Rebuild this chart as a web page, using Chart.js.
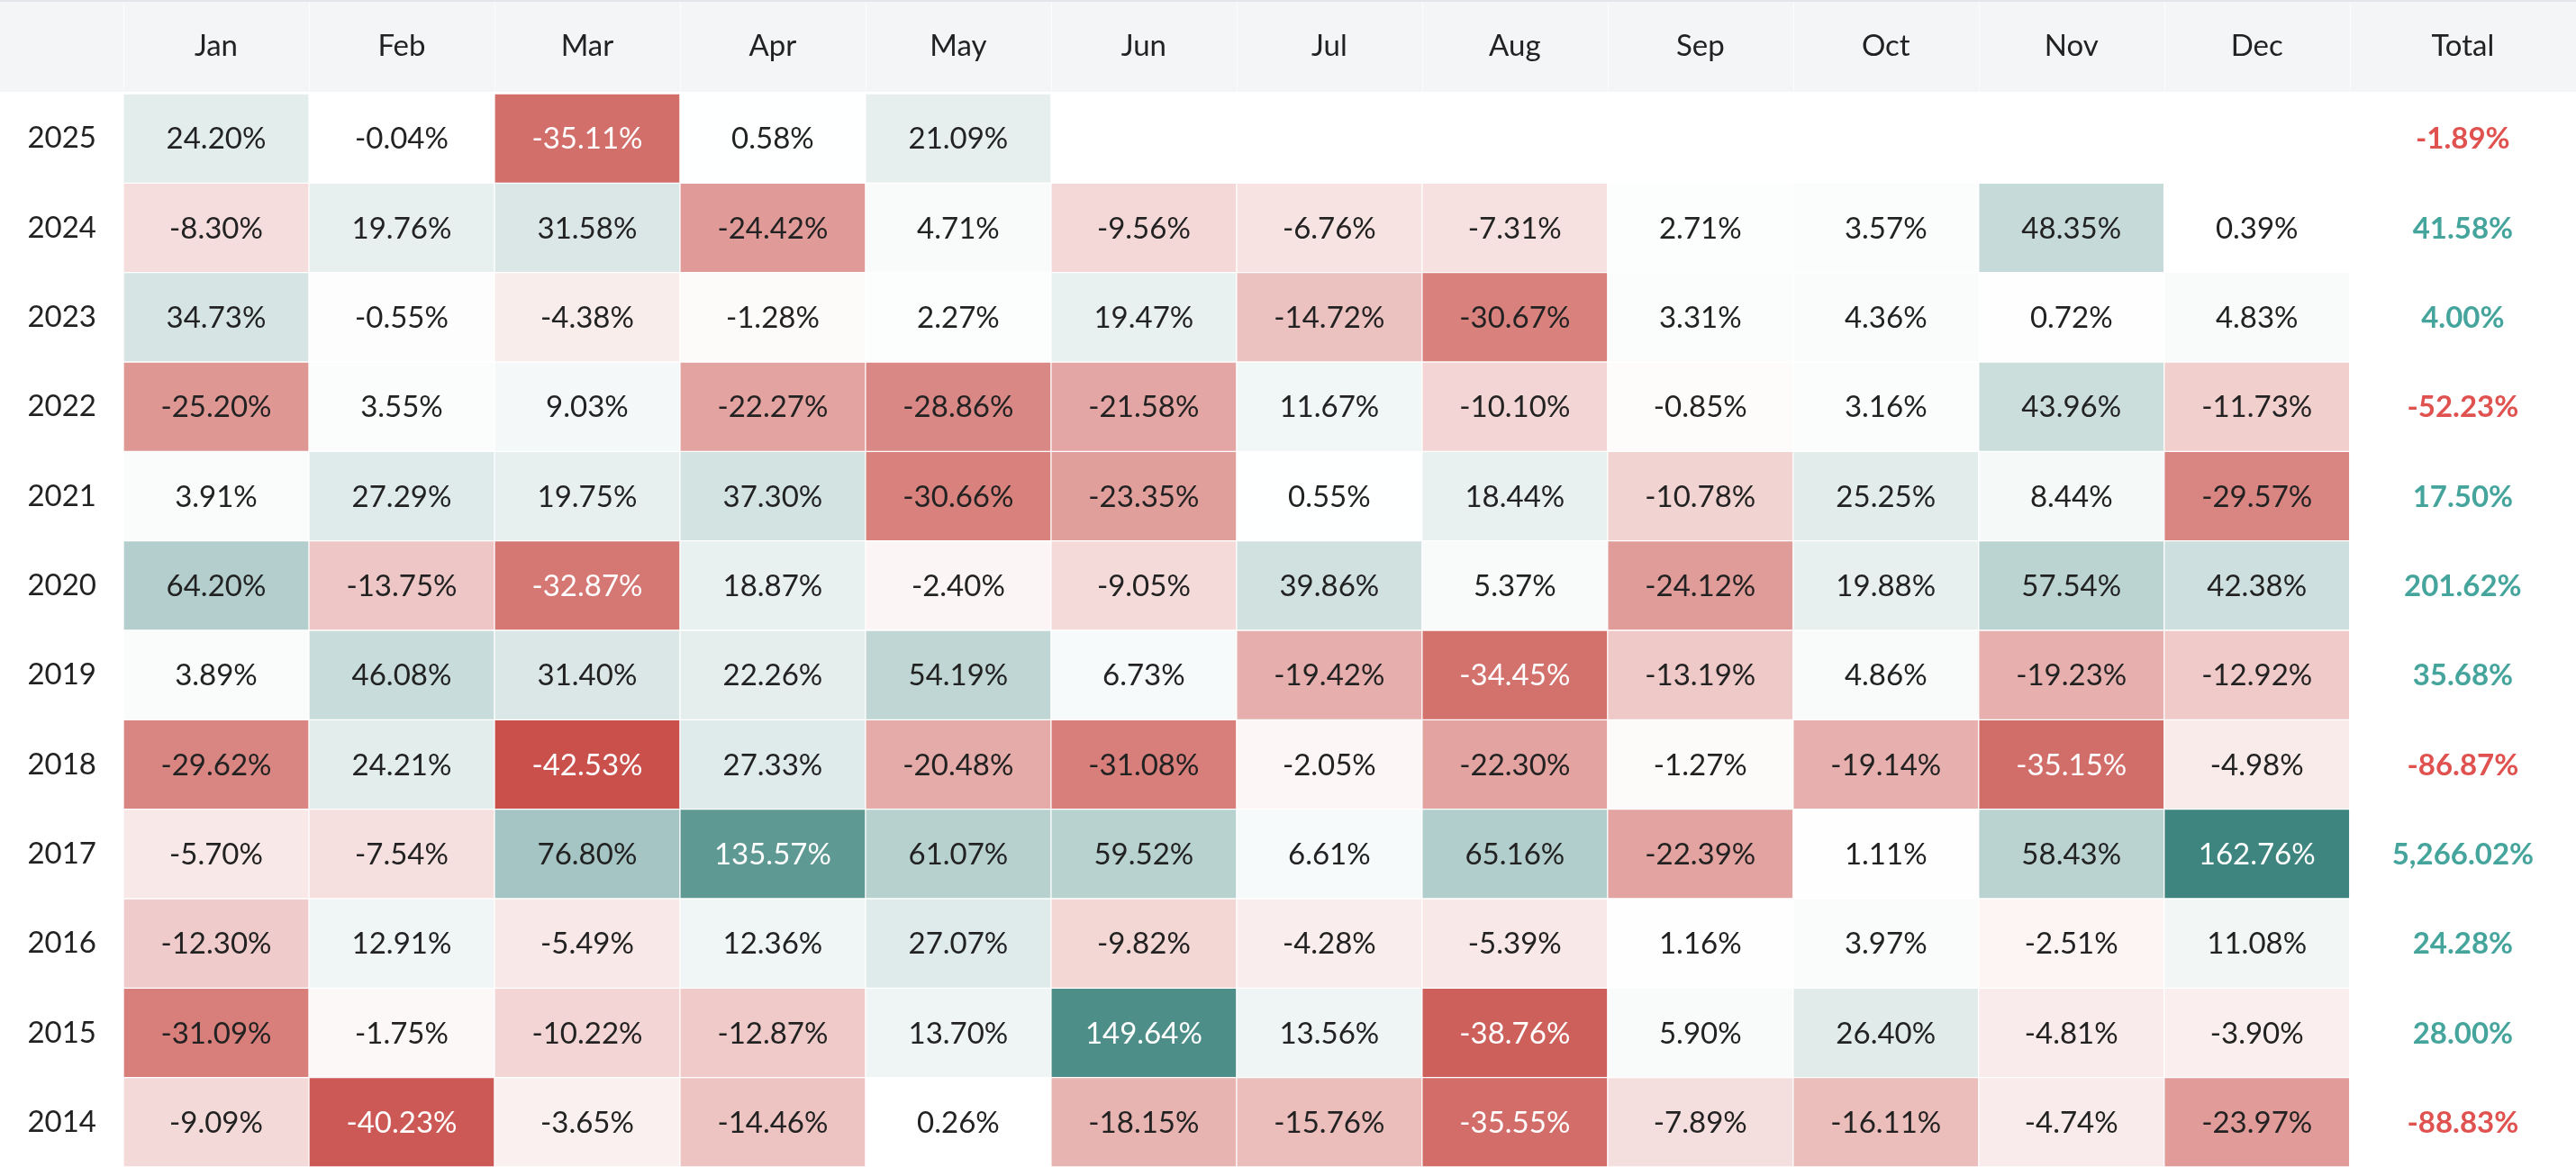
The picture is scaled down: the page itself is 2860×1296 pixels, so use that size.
<!DOCTYPE html>
<html>
<head>
<meta charset="utf-8">
<script src="https://cdn.jsdelivr.net/npm/chart.js@4.4.1/dist/chart.umd.min.js"></script>
<style>
  html, body { margin: 0; padding: 0; background: #ffffff; overflow: hidden; }
  canvas { display: block; }
</style>
</head>
<body>
<canvas id="c" width="2860" height="1296" style="width:2860px;height:1296px"></canvas>
<script>
const months = ['Jan','Feb','Mar','Apr','May','Jun','Jul','Aug','Sep','Oct','Nov','Dec'];
const totalLabel = 'Total';
const years = ['2025','2024','2023','2022','2021','2020','2019','2018','2017','2016','2015','2014'];

const r2025 = [24.20, -0.04, -35.11, 0.58, 21.09, null, null, null, null, null, null, null];
const r2024 = [-8.30, 19.76, 31.58, -24.42, 4.71, -9.56, -6.76, -7.31, 2.71, 3.57, 48.35, 0.39];
const r2023 = [34.73, -0.55, -4.38, -1.28, 2.27, 19.47, -14.72, -30.67, 3.31, 4.36, 0.72, 4.83];
const r2022 = [-25.20, 3.55, 9.03, -22.27, -28.86, -21.58, 11.67, -10.10, -0.85, 3.16, 43.96, -11.73];
const r2021 = [3.91, 27.29, 19.75, 37.30, -30.66, -23.35, 0.55, 18.44, -10.78, 25.25, 8.44, -29.57];
const r2020 = [64.20, -13.75, -32.87, 18.87, -2.40, -9.05, 39.86, 5.37, -24.12, 19.88, 57.54, 42.38];
const r2019 = [3.89, 46.08, 31.40, 22.26, 54.19, 6.73, -19.42, -34.45, -13.19, 4.86, -19.23, -12.92];
const r2018 = [-29.62, 24.21, -42.53, 27.33, -20.48, -31.08, -2.05, -22.30, -1.27, -19.14, -35.15, -4.98];
const r2017 = [-5.70, -7.54, 76.80, 135.57, 61.07, 59.52, 6.61, 65.16, -22.39, 1.11, 58.43, 162.76];
const r2016 = [-12.30, 12.91, -5.49, 12.36, 27.07, -9.82, -4.28, -5.39, 1.16, 3.97, -2.51, 11.08];
const r2015 = [-31.09, -1.75, -10.22, -12.87, 13.70, 149.64, 13.56, -38.76, 5.90, 26.40, -4.81, -3.90];
const r2014 = [-9.09, -40.23, -3.65, -14.46, 0.26, -18.15, -15.76, -35.55, -7.89, -16.11, -4.74, -23.97];
const totals = [-1.89, 41.58, 4.00, -52.23, 17.50, 201.62, 35.68, -86.87, 5266.02, 24.28, 28.00, -88.83];

const rows = [r2025, r2024, r2023, r2022, r2021, r2020, r2019, r2018, r2017, r2016, r2015, r2014];

// layout constants (not data)
const TOTAL_W = 1.22;            // total column width in month-column units
const HEADER_H = 104;
const LEFT_W = 137;
const FONT = 'Lato, "Noto Sans", sans-serif';
const FSIZE = 33;

const allVals = rows.flat().filter(v => v != null);
const maxPos = Math.max(...allVals.filter(v => v > 0));
const maxNeg = Math.abs(Math.min(...allVals.filter(v => v < 0)));
const POS_END = [62, 132, 127];
const NEG_END = [201, 80, 75];

function intensity(v) {
  return Math.min(1, Math.abs(v) / (v >= 0 ? maxPos : maxNeg));
}
function cellColor(v) {
  if (v == null) return 'rgba(0,0,0,0)';
  const t = intensity(v);
  const end = v >= 0 ? POS_END : NEG_END;
  const c = end.map(e => Math.round(255 + (e - 255) * t));
  return `rgb(${c[0]},${c[1]},${c[2]})`;
}
function fmt(v) {
  return v.toLocaleString('en-US', { minimumFractionDigits: 2, maximumFractionDigits: 2 }) + '%';
}

const datasets = months.map((m, mi) => ({
  label: m,
  data: rows.map(r => (r[mi] == null ? null : [mi, mi + 1])),
  pct: rows.map(r => r[mi]),
  backgroundColor: ctx => cellColor(ctx.dataset.pct[ctx.dataIndex]),
  borderColor: 'rgba(255,255,255,0.45)',
  borderWidth: 1,
  borderSkipped: false,
  grouped: false,
  barPercentage: 1,
  categoryPercentage: 1
}));

const headerLabels = months.concat([totalLabel]);
const tickPositions = months.map((m, i) => i + 0.5).concat([months.length + TOTAL_W / 2]);

const headerPlugin = {
  id: 'header',
  beforeDraw(chart) {
    const ctx = chart.ctx;
    const w = chart.width;
    ctx.save();
    ctx.fillStyle = '#ffffff';
    ctx.fillRect(0, 0, w, chart.height);
    ctx.fillStyle = '#e3e5ea';
    ctx.fillRect(0, 0, w, 2);
    ctx.fillStyle = '#f4f5f7';
    ctx.fillRect(0, 2, w, HEADER_H - 4);
    const xs = chart.scales.x;
    ctx.fillStyle = 'rgba(255,255,255,0.7)';
    for (let i = 0; i <= months.length; i++) {
      const px = Math.round(xs.getPixelForValue(i));
      ctx.fillRect(px, 2, 1, HEADER_H - 4);
    }
    ctx.restore();
  }
};

const labelPlugin = {
  id: 'cellLabels',
  afterDatasetsDraw(chart) {
    const ctx = chart.ctx;
    ctx.save();
    ctx.textAlign = 'center';
    ctx.textBaseline = 'middle';
    ctx.font = `${FSIZE}px ${FONT}`;
    chart.data.datasets.forEach((ds, di) => {
      const meta = chart.getDatasetMeta(di);
      meta.data.forEach((el, yi) => {
        const v = ds.pct[yi];
        if (v == null) return;
        const p = el.getCenterPoint();
        ctx.fillStyle = intensity(v) > 0.75 ? '#ffffff' : '#222222';
        ctx.fillText(fmt(v), p.x, p.y + 1);
      });
    });
    const xs = chart.scales.x, ys = chart.scales.y;
    ctx.font = `bold ${FSIZE}px ${FONT}`;
    totals.forEach((v, yi) => {
      ctx.fillStyle = v >= 0 ? '#45a59c' : '#e0524f';
      ctx.fillText(fmt(v), xs.getPixelForValue(tickPositions[tickPositions.length - 1]), ys.getPixelForValue(yi) + 1);
    });
    ctx.restore();
  }
};

new Chart(document.getElementById('c'), {
  type: 'bar',
  data: { labels: years, datasets },
  options: {
    indexAxis: 'y',
    responsive: false,
    maintainAspectRatio: false,
    devicePixelRatio: 1,
    animation: false,
    layout: { padding: 0 },
    plugins: { legend: { display: false }, tooltip: { enabled: false } },
    scales: {
      x: {
        type: 'linear',
        position: 'top',
        min: 0,
        max: months.length + TOTAL_W,
        grid: { display: false, drawTicks: false },
        border: { display: false },
        afterBuildTicks: scale => { scale.ticks = tickPositions.map(v => ({ value: v })); },
        afterFit: scale => {
          scale.height = HEADER_H;
          scale.paddingLeft = 0; scale.paddingRight = 0;
          scale.paddingTop = 0; scale.paddingBottom = 0;
        },
        ticks: {
          autoSkip: false,
          maxRotation: 0,
          padding: 33,
          color: '#222222',
          font: { family: FONT, size: FSIZE },
          callback: (v, i) => headerLabels[i]
        }
      },
      y: {
        type: 'category',
        grid: { display: false, drawTicks: false },
        border: { display: false },
        afterFit: scale => {
          scale.width = LEFT_W;
          scale.paddingLeft = 0; scale.paddingRight = 0;
          scale.paddingTop = 0; scale.paddingBottom = 0;
        },
        ticks: {
          crossAlign: 'near',
          padding: 30,
          color: '#222222',
          font: { family: FONT, size: FSIZE }
        }
      }
    }
  },
  plugins: [headerPlugin, labelPlugin]
});
</script>
</body>
</html>
